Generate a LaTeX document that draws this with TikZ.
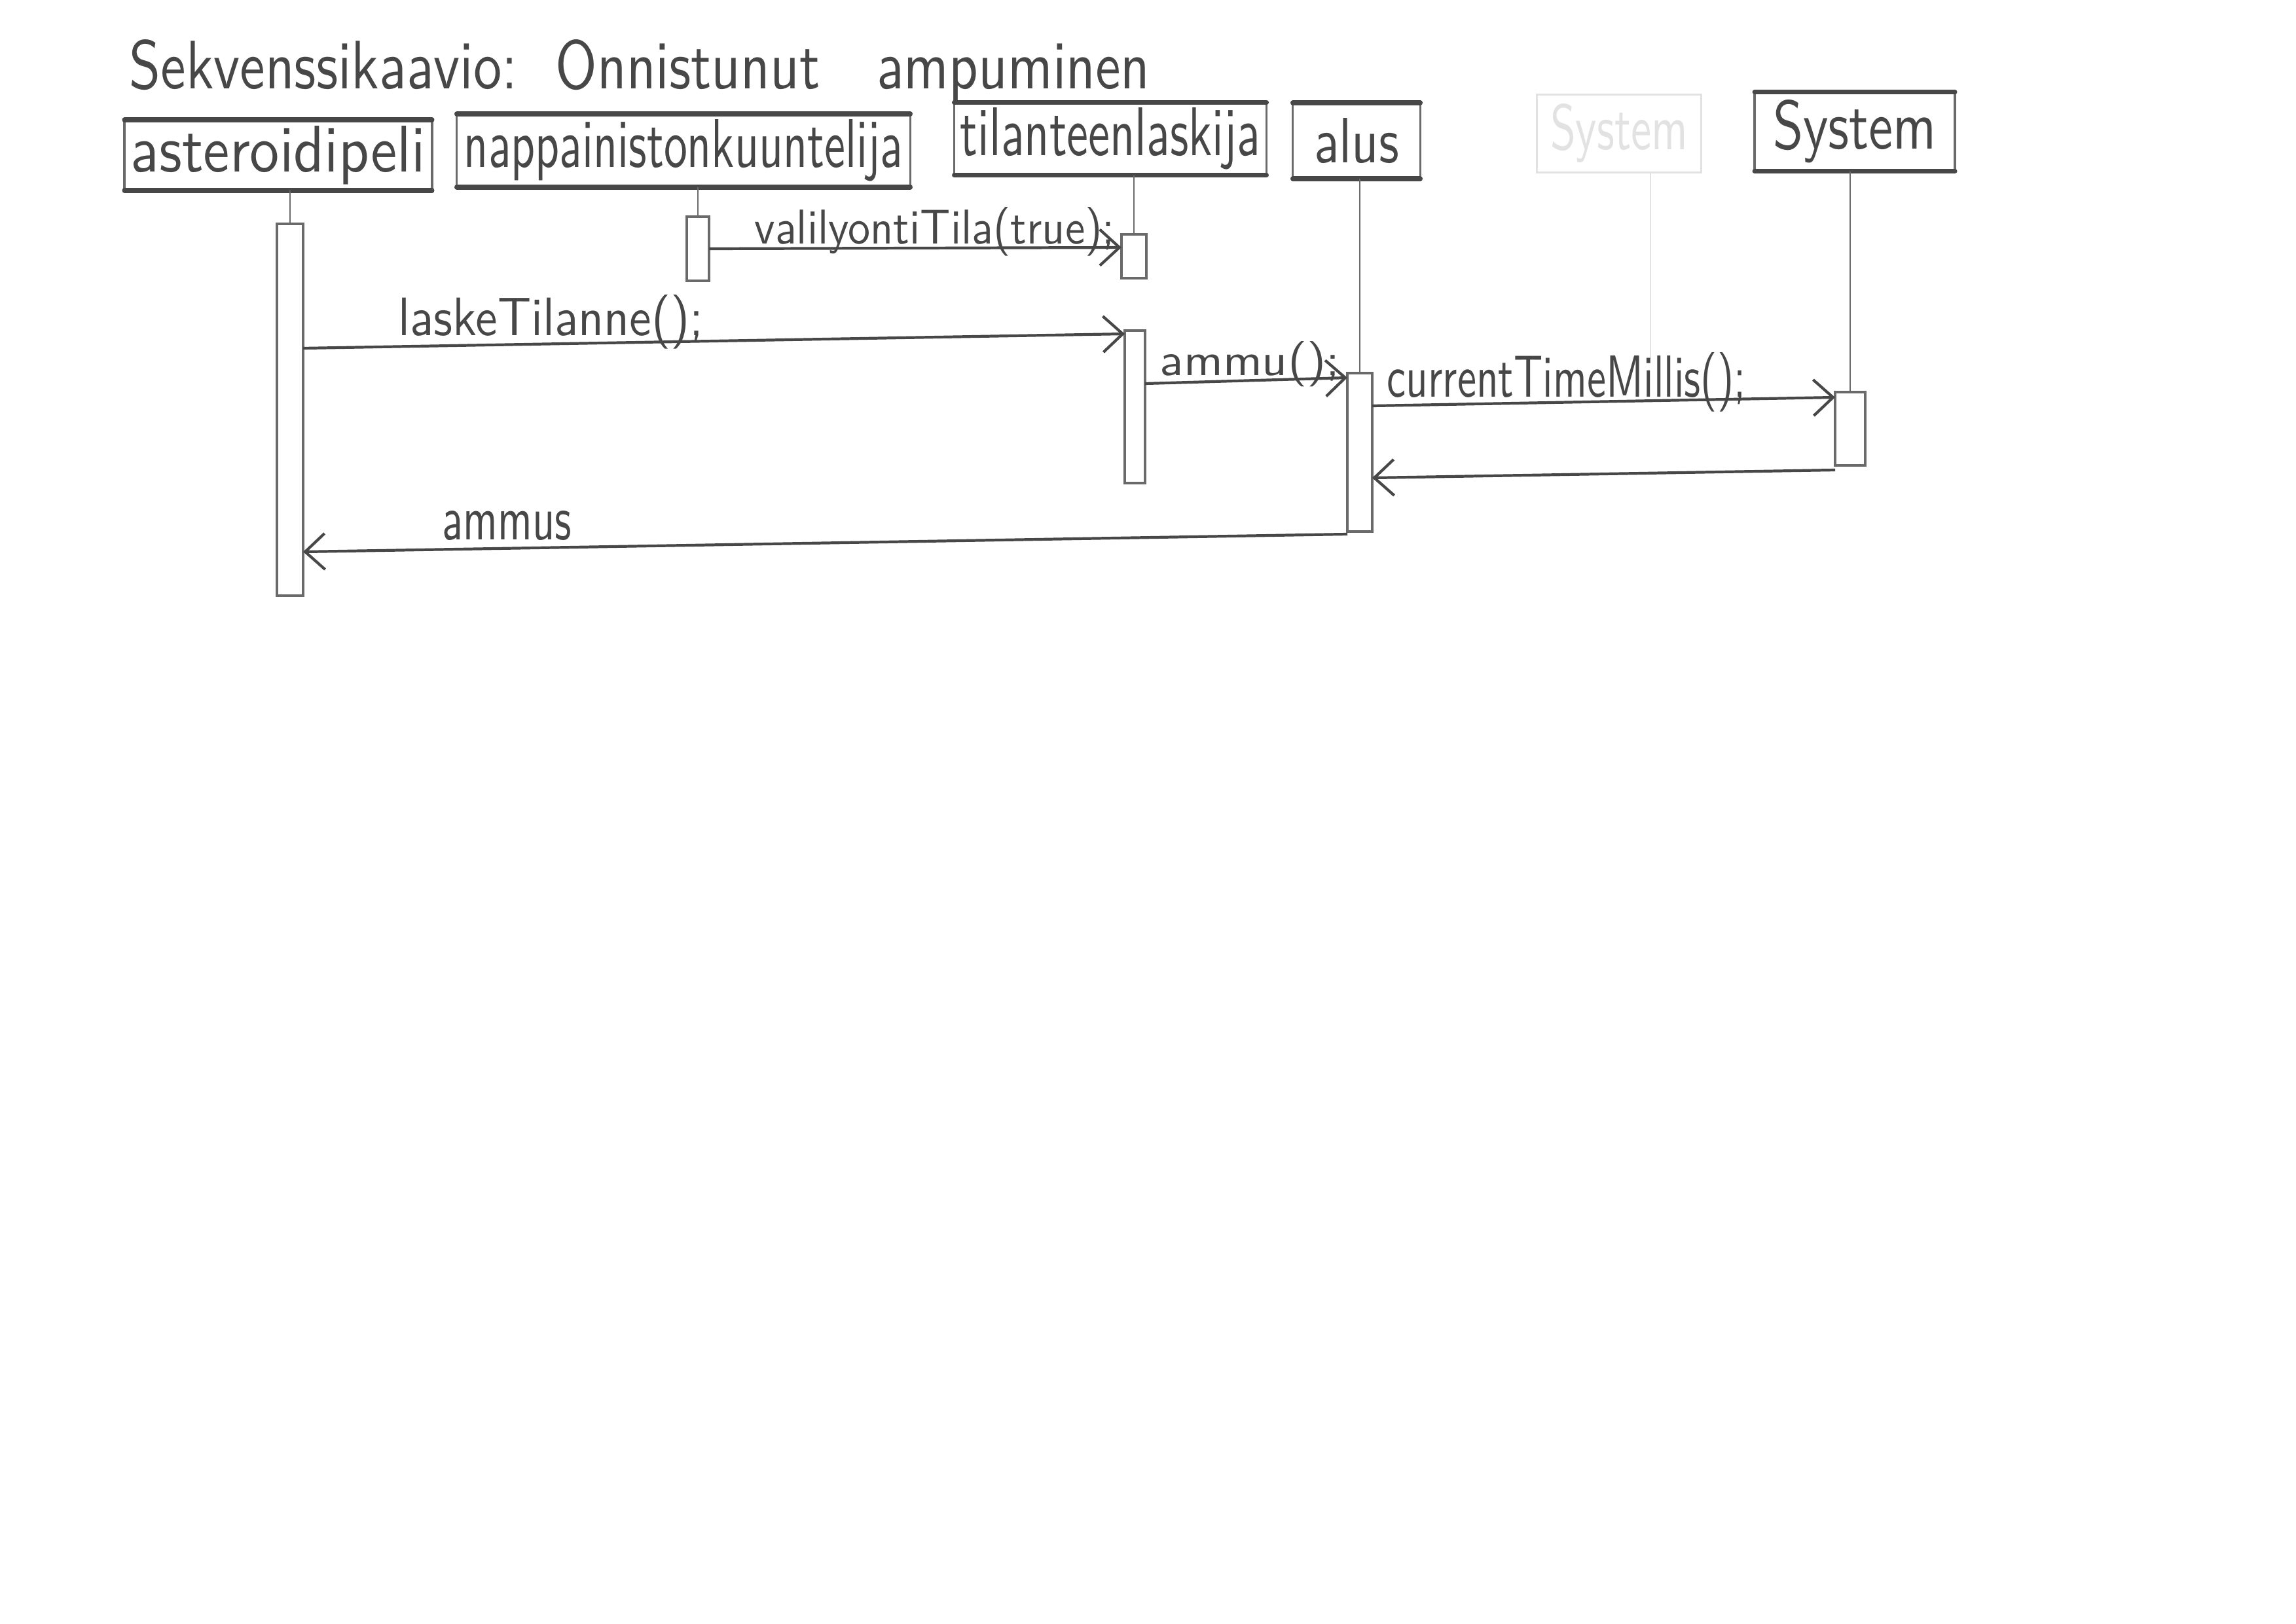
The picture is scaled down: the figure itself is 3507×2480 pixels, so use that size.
\documentclass[tikz,border=0pt]{standalone}
\usepackage{fontspec}
\usepackage{graphicx}
\usetikzlibrary{arrows.meta}
\definecolor{pencil}{HTML}{474747}
\definecolor{pencilside}{HTML}{6A6A6A}
\definecolor{ghost}{HTML}{E2E2E2}
% hand-lettered text squeezed into a given width and height
\newcommand{\hand}[3]{\resizebox{#1}{#2}{\sffamily #3}}

\begin{document}
\begin{tikzpicture}[x=0.1mm,y=-0.1mm,
  obj/.style={draw=pencilside, line width=0.9pt, inner sep=0pt, outer sep=0pt, text=pencil},
  edge/.style={draw=pencil, line width=2pt, line cap=round},
  act/.style={draw=pencilside, line width=0.9pt, fill=white, inner sep=0pt, outer sep=0pt},
  life/.style={draw=pencilside, line width=0.7pt},
  msg/.style={draw=pencil, line width=1.2pt, -{Straight Barb[length=3mm,width=5.5mm,line width=1.2pt]}},
  lbl/.style={inner sep=0pt, anchor=base west, text=pencil}
]
\useasboundingbox[fill=white] (0,0) rectangle (3507,2480);

% title
\node[lbl] (title) at (197,135) {\hand{155.9mm}{7.5mm}{Sekvenssikaavio:\ \ Onnistunut\ \ \ ampuminen}};

% participants
\node[obj, minimum width=47mm, minimum height=10.8mm] (peli) at (425,237) {\hand{45mm}{7mm}{asteroidipeli}};
\node[obj, minimum width=69.3mm, minimum height=11.2mm] (kuuntelija) at (1044,230) {\hand{67mm}{7.3mm}{nappainistonkuuntelija}};
\node[obj, minimum width=47.7mm, minimum height=11.1mm] (laskija) at (1696,212) {\hand{45.8mm}{7.3mm}{tilanteenlaskija}};
\node[obj, minimum width=19.5mm, minimum height=11.6mm] (alus) at (2072,215) {\hand{13mm}{6.8mm}{alus}};
\node[obj, draw=ghost, text=ghost, minimum width=25.1mm, minimum height=11.9mm] (ghostsys) at (2473,204) {\hand{21mm}{7mm}{System}};
\node[obj, minimum width=30.6mm, minimum height=12.1mm] (system) at (2833,201) {\hand{25mm}{7.5mm}{System}};

% heavier top and bottom strokes of the participant boxes
\foreach \n in {peli,kuuntelija,laskija,alus,system}{
  \draw[edge] (\n.north west) -- (\n.north east);
  \draw[edge] (\n.south west) -- (\n.south east);
}

% activation bars
\node[act, minimum width=4mm, minimum height=56.8mm] (aPeli) at (443,626) {};
\node[act, minimum width=3.4mm, minimum height=9.8mm] (aKuunt) at (1066,380) {};
\node[act, minimum width=3.8mm, minimum height=6.7mm] (aLask1) at (1732,391.5) {};
\node[act, minimum width=3.1mm, minimum height=23.3mm] (aLask2) at (1733.5,621.5) {};
\node[act, minimum width=3.8mm, minimum height=24.2mm] (aAlus) at (2077,691) {};
\node[act, minimum width=4.6mm, minimum height=11.2mm] (aSys) at (2826,655) {};

% lifelines
\draw[life] (aPeli.north) -- (aPeli.north |- peli.south);
\draw[life] (aKuunt.north) -- (aKuunt.north |- kuuntelija.south);
\draw[life] (aLask1.north) -- (aLask1.north |- laskija.south);
\draw[life] (aAlus.north) -- (aAlus.north |- alus.south);
\draw[life] (aSys.north) -- (aSys.north |- system.south);
\coordinate (ghostend) at (2521,548);
\draw[draw=ghost, line width=0.7pt] (ghostend) -- (ghostend |- ghostsys.south);

% messages
\draw[msg] (aKuunt.east) -- ([yshift=1.35mm]aLask1.west);
\node[lbl] (m1) at (1152,372) {\hand{55mm}{5.6mm}{valilyontiTila(true);}};

\draw[msg] ([yshift=9.4mm]aPeli.east) -- ([yshift=11.15mm]aLask2.west);
\node[lbl] (m2) at (608,512) {\hand{46.6mm}{6.2mm}{laskeTilanne();}};

\draw[msg] ([yshift=3.55mm]aLask2.east) -- ([yshift=11.4mm]aAlus.west);
\node[lbl] (m3) at (1771,573) {\hand{27.5mm}{5.2mm}{ammu();}};

\draw[msg] ([yshift=7.1mm]aAlus.east) -- ([yshift=4.8mm]aSys.west);
\node[lbl] (m4) at (2118,606) {\hand{54.8mm}{6.8mm}{currentTimeMillis();}};

\draw[msg] ([yshift=-6.3mm]aSys.west) -- ([yshift=-3.9mm]aAlus.east);

\draw[msg] ([yshift=-12.5mm]aAlus.west) -- ([yshift=-21.7mm]aPeli.east);
\node[lbl] (m6) at (675,824) {\hand{19.7mm}{4.4mm}{ammus}};
\end{tikzpicture}
\end{document}
